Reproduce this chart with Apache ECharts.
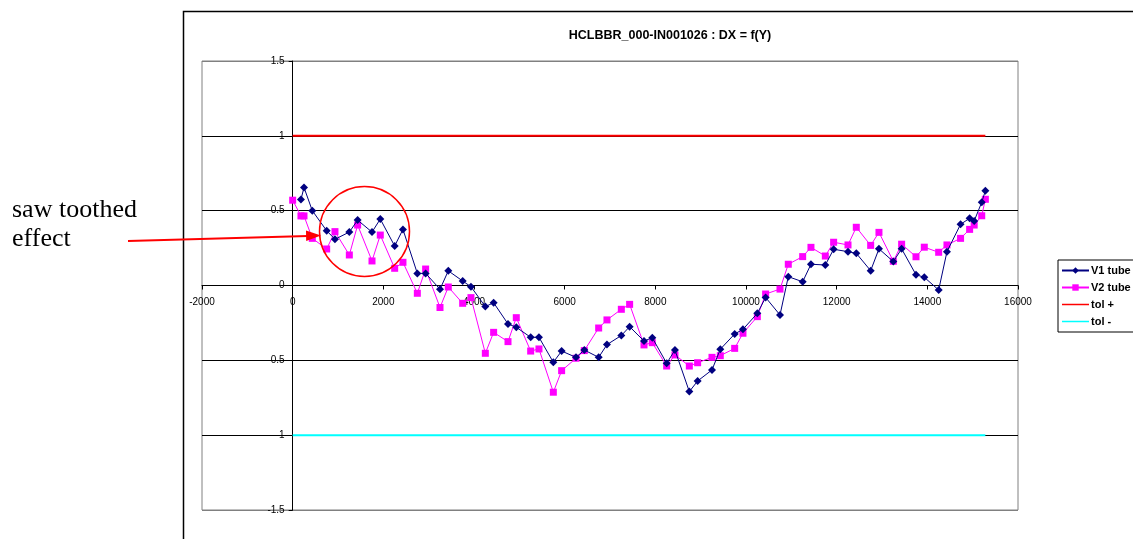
<!DOCTYPE html>
<html>
<head>
<meta charset="utf-8">
<script src="https://cdn.jsdelivr.net/npm/echarts@6/dist/echarts.min.js"></script>
<style>html,body{margin:0;padding:0;background:#fff}#c{width:1133px;height:539px}</style>
</head>
<body>
<div id="c"></div>
<script>
const positions = [0,183,250,433,750,933,1250,1433,1750,1933,2250,2433,2750,2933,3250,3433,3750,3933,4250,4433,4750,4933,5250,5433,5750,5933,6250,6433,6750,6933,7250,7433,7750,7933,8250,8433,8750,8933,9250,9433,9750,9933,10250,10433,10750,10933,11250,11433,11750,11933,12250,12433,12750,12933,13250,13433,13750,13933,14250,14433,14733,14933,15033,15200,15280];
const v1Tube = [null,0.575,0.655,0.50,0.366,0.309,0.357,0.437,0.357,0.444,0.264,0.375,0.081,0.081,-0.025,0.098,0.03,-0.008,-0.141,-0.115,-0.257,-0.279,-0.346,-0.346,-0.513,-0.438,-0.48,-0.431,-0.48,-0.395,-0.334,-0.275,-0.371,-0.349,-0.52,-0.431,-0.709,-0.638,-0.564,-0.426,-0.324,-0.293,-0.186,-0.08,-0.197,0.059,0.025,0.142,0.137,0.242,0.226,0.215,0.099,0.245,0.16,0.245,0.072,0.055,-0.03,0.226,0.409,0.449,0.431,0.556,0.633];
const v2Tube = [0.57,0.465,0.465,0.315,0.244,0.36,0.204,0.404,0.164,0.337,0.115,0.155,-0.052,0.11,-0.147,-0.01,-0.119,-0.081,-0.453,-0.313,-0.375,-0.215,-0.438,-0.424,-0.713,-0.569,-0.486,-0.435,-0.284,-0.23,-0.159,-0.126,-0.397,-0.382,-0.538,-0.464,-0.538,-0.516,-0.48,-0.469,-0.42,-0.319,-0.208,-0.057,-0.024,0.142,0.193,0.255,0.197,0.289,0.271,0.389,0.268,0.355,0.162,0.276,0.192,0.256,0.222,0.271,0.315,0.375,0.404,0.466,0.576];
const tolX = [0,15280];
const tolPlus = [1,1];
const tolMinus = [-1,-1];
const xMin = -2000, xMax = 16000, xStep = 2000;
const yMin = -1.5, yMax = 1.5, yStep = 0.5;
const titleText = 'HCLBBR_000-IN001026 : DX = f(Y)';
const noteText = 'saw toothed\neffect';
const seriesNames = ['V1 tube','V2 tube','tol +','tol -'];

const pairs = (xs, ys) => xs.map((x, i) => [x, ys[i]]).filter(p => p[1] !== null);
const sans = '"Liberation Sans", Arial, sans-serif';

// grid box (pixels)
const G = {left: 202, right: 1018, top: 61, bottom: 510};
// shift axes so they cross at the data origin (like Excel)
const yAxisShift = (0 - xMin) / (xMax - xMin) * (G.right - G.left);
const xAxisShift = (0 - yMin) / (yMax - yMin) * (G.bottom - G.top);

const chart = echarts.init(document.getElementById('c'), null, {renderer: 'canvas'});
chart.setOption({
  animation: false,
  backgroundColor: '#fff',
  title: {
    text: titleText, left: 665, top: 24, textAlign: 'center',
    textStyle: {fontFamily: sans, fontSize: 12.5, fontWeight: 'bold', color: '#000'}
  },
  legend: {
    orient: 'vertical', left: 1058, top: 260,
    padding: [5, 5, 5, 3], itemGap: 6, itemWidth: 27, itemHeight: 8,
    borderColor: '#000', borderWidth: 1, backgroundColor: '#fff',
    textStyle: {fontFamily: sans, fontSize: 11, fontWeight: 'bold', color: '#000', padding: [0,0,0,-3]},
    data: [
      {name: seriesNames[0]},
      {name: seriesNames[1]},
      {name: seriesNames[2], icon: 'line', itemStyle: {color: '#ff0000', borderColor: '#ff0000', borderWidth: 1.5}},
      {name: seriesNames[3], icon: 'line', itemStyle: {color: '#00ffff', borderColor: '#00ffff', borderWidth: 1.5}}
    ]
  },
  grid: {left: G.left, right: 1133 - G.right, top: G.top, bottom: 539 - G.bottom, show: true, borderColor: '#808080', borderWidth: 1, containLabel: false},
  xAxis: {
    type: 'value', min: xMin, max: xMax, interval: xStep,
    offset: -xAxisShift,
    axisLine: {onZero: false, lineStyle: {color: '#000', width: 1}},
    axisTick: {show: true, length: 4, lineStyle: {color: '#000'}},
    axisLabel: {fontFamily: sans, fontSize: 10, color: '#000', margin: 12, formatter: v => String(v)},
    splitLine: {show: false}
  },
  yAxis: {
    type: 'value', min: yMin, max: yMax, interval: yStep,
    offset: -yAxisShift,
    axisLine: {onZero: false, lineStyle: {color: '#000', width: 1}},
    axisTick: {show: true, length: 4, lineStyle: {color: '#000'}},
    axisLabel: {fontFamily: sans, fontSize: 10, color: '#000', margin: 8, formatter: v => String(v)},
    splitLine: {show: true, lineStyle: {color: ['#808080','#000','#000','#000','#000','#000','#808080'], width: 1}}
  },
  series: [
    {name: seriesNames[0], type: 'line', data: pairs(positions, v1Tube), symbol: 'diamond', symbolSize: 8,
     lineStyle: {color: '#000080', width: 1}, itemStyle: {color: '#000080'}, z: 4},
    {name: seriesNames[1], type: 'line', data: pairs(positions, v2Tube), symbol: 'rect', symbolSize: 7,
     lineStyle: {color: '#ff00ff', width: 1}, itemStyle: {color: '#ff00ff'}, z: 3},
    {name: seriesNames[2], type: 'line', data: pairs(tolX, tolPlus), symbol: 'none',
     lineStyle: {color: '#ff0000', width: 2}, itemStyle: {color: '#ff0000'}, z: 2},
    {name: seriesNames[3], type: 'line', data: pairs(tolX, tolMinus), symbol: 'none',
     lineStyle: {color: '#00ffff', width: 2}, itemStyle: {color: '#00ffff'}, z: 2}
  ],
  graphic: [
    {type: 'rect', z: 100, silent: true, shape: {x: 183.5, y: 11.5, width: 1000, height: 600},
     style: {fill: 'none', stroke: '#000', lineWidth: 1.5}},
    {type: 'text', z: 100, silent: true, x: 12, y: 196,
     style: {text: noteText, font: '26px "Liberation Serif", "Times New Roman", serif', fill: '#000', lineHeight: 29}},
    {type: 'line', z: 100, silent: true, shape: {x1: 128, y1: 241, x2: 308, y2: 236},
     style: {stroke: '#ff0000', lineWidth: 2}},
    {type: 'polygon', z: 100, silent: true, shape: {points: [[321, 235.5], [306, 230.5], [306.2, 241]]},
     style: {fill: '#ff0000'}},
    {type: 'circle', z: 100, silent: true, shape: {cx: 364.5, cy: 231.5, r: 45},
     style: {fill: 'none', stroke: '#ff0000', lineWidth: 1.5}}
  ]
});
</script>
</body>
</html>
